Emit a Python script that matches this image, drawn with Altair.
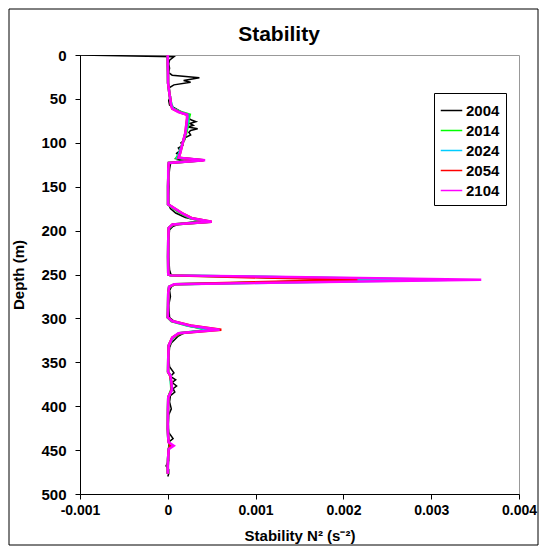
import altair as alt
import pandas as pd

# Stability N^2 values are given in units of 1e-4 s^-2
YEARS = ["2004", "2014", "2024", "2054", "2104"]
COLORS = ["#000000", "#00FF00", "#00CCFF", "#FF0000", "#FF00FF"]

DEPTH_2004 = [0, 2, 6, 10, 15, 20, 23, 26, 29, 31, 34, 37, 42, 47, 52, 57, 61, 64, 67, 69,
              72, 74, 76, 78, 80, 82, 84, 86, 88, 91, 94, 97, 100, 103, 106, 109, 112, 115, 118, 120,
              122, 124, 130, 140, 150, 160, 170, 175, 180, 185, 189, 192, 195, 199, 210, 230, 245, 251, 256, 261,
              264, 268, 275, 285, 299, 304, 309, 313, 316, 320, 324, 328, 333, 345, 355, 362, 366, 370, 373, 377,
              380, 384, 388, 395, 403, 410, 420, 430, 437, 440, 446, 455, 462, 468, 472, 477, 480]
N2_2004 = [-10, 0.7, 0.2, 0.1, 0.2, 0.1, 0.5, 3.6, 1.8, 2.6, 0.7, 0.2, 0.1, 0.3, 0.1, 0.2, 0.9, 1.4, 2.0, 2.4,
           2.3, 2.7, 3.2, 2.5, 2.9, 2.3, 3.4, 2.6, 2.4, 2.6, 2.0, 1.9, 1.5, 1.7, 1.2, 1.4, 1.0, 1.3, 0.9, 1.8,
           0.6, 0.3, 0.2, 0.1, 0.15, 0.1, 0.1, 0.3, 0.9, 2.0, 3.8, 1.5, 0.6, 0.2, 0.1, 0.1, 0.2, 0.4, 22.0, 0.8,
           0.4, 0.2, 0.3, 0.1, 0.2, 0.8, 2.5, 4.6, 2.0, 1.2, 0.8, 0.4, 0.2, 0.1, 0.2, 0.7, 0.3, 0.9, 0.5, 1.0,
           0.6, 0.8, 0.3, 0.2, 0.4, 0.1, 0.05, 0.1, 0.6, 0.2, 0.1, 0.05, 0.1, -0.2, 0.1, 0.1, 0.0]

DEPTH = [0, 10, 20, 32, 45, 51, 56, 61, 65, 68,
         72, 80, 89, 100, 112, 117, 120, 123, 130, 140,
         150, 160, 170, 174, 180, 186, 190, 193, 197, 210,
         230, 250, 251, 256, 261, 264, 271, 285, 299, 303,
         308, 313, 317, 322, 331, 345, 361, 365, 372, 381,
         390, 405, 426, 436, 441, 445, 449, 460, 468, 477]
N2_2014 = [0.0, 0.0, 0.02, 0.03, 0.2, 0.3, 0.4, 0.6, 1.5, 2.5,
           2.4, 2.3, 2.1, 1.7, 1.3, 1.0, 3.8, 0.12, 0.05, 0.05,
           0.03, 0.03, 0.03, 0.55, 1.4, 2.6, 4.6, 0.6, 0.12, 0.05,
           0.03, 0.05, 0.3, 29.0, 0.9, 0.15, 0.05, 0.03, 0.0, 0.4,
           2.2, 4.8, 1.4, 0.6, 0.1, 0.05, 0.03, 0.3, 0.35, 0.4,
           0.05, 0.02, 0.0, 0.05, 0.15, 0.25, 0.1, 0.03, 0.0, 0.0]
N2_2024 = [0.0, 0.0, 0.02, 0.03, 0.2, 0.3, 0.4, 0.6, 1.4, 2.3,
           2.3, 2.2, 2.0, 1.7, 1.3, 1.1, 4.0, 0.12, 0.05, 0.05,
           0.03, 0.03, 0.03, 0.6, 1.5, 2.7, 4.8, 0.6, 0.12, 0.05,
           0.03, 0.05, 0.3, 32.0, 0.8, 0.15, 0.05, 0.03, 0.0, 0.45,
           2.3, 5.1, 1.3, 0.55, 0.1, 0.05, 0.03, 0.3, 0.35, 0.45,
           0.05, 0.02, 0.0, 0.05, 0.1, 0.35, 0.1, 0.03, 0.0, 0.0]
N2_2054 = [0.0, 0.0, 0.02, 0.03, 0.2, 0.3, 0.35, 0.5, 1.3, 2.2,
           2.2, 2.1, 2.0, 1.7, 1.4, 1.2, 4.1, 0.12, 0.05, 0.05,
           0.03, 0.03, 0.03, 0.65, 1.6, 2.8, 5.0, 0.55, 0.1, 0.05,
           0.03, 0.05, 0.3, 21.6, 0.8, 0.15, 0.05, 0.03, 0.0, 0.5,
           2.6, 6.1, 1.3, 0.5, 0.1, 0.05, 0.03, 0.25, 0.4, 0.45,
           0.05, 0.02, 0.0, 0.05, 0.1, 0.3, 0.1, 0.03, 0.0, 0.0]
N2_2104 = [0.0, 0.0, 0.02, 0.03, 0.2, 0.3, 0.35, 0.5, 1.2, 2.2,
           2.2, 2.1, 2.0, 1.7, 1.4, 1.24, 4.25, 0.11, 0.05, 0.05,
           0.03, 0.03, 0.03, 0.68, 1.6, 2.75, 5.0, 0.5, 0.1, 0.05,
           0.03, 0.05, 0.3, 35.7, 0.7, 0.15, 0.05, 0.03, 0.0, 0.5,
           2.5, 5.9, 1.2, 0.5, 0.1, 0.05, 0.03, 0.3, 0.4, 0.49,
           0.05, 0.02, 0.0, 0.05, 0.1, 0.68, 0.1, 0.03, 0.0, 0.0]

X_TICKS = [-0.001, 0, 0.001, 0.002, 0.003, 0.004]
Y_TICKS = [0, 50, 100, 150, 200, 250, 300, 350, 400, 450, 500]

series = {
    "2004": (DEPTH_2004, N2_2004),
    "2014": (DEPTH, N2_2014),
    "2024": (DEPTH, N2_2024),
    "2054": (DEPTH, N2_2054),
    "2104": (DEPTH, N2_2104),
}
rows = []
for year, (depths, vals) in series.items():
    for i, (d, v) in enumerate(zip(depths, vals)):
        rows.append({"year": year, "depth": d, "n2": v * 1e-4, "i": i})
df = pd.DataFrame(rows)

FONT = "Liberation Sans"

x_enc = alt.X(
    "n2:Q",
    scale=alt.Scale(domain=[-0.001, 0.004], nice=False, zero=False),
    axis=alt.Axis(
        values=X_TICKS,
        labelExpr="datum.value < 0 ? '-' + format(-datum.value, '.3~f') : format(datum.value, '.3~f')",
        title="Stability N² (s⁻²)",
        labelPadding=4,
        titlePadding=11,
        labelFlush=False,
        labelFontSize=14,
    ),
)
y_enc = alt.Y(
    "depth:Q",
    scale=alt.Scale(domain=[0, 500], reverse=True, nice=False, zero=False),
    axis=alt.Axis(values=Y_TICKS, title="Depth (m)", labelPadding=9, titlePadding=14),
)
color_enc = alt.Color(
    "year:N",
    scale=alt.Scale(domain=YEARS, range=COLORS),
    legend=alt.Legend(
        orient="none",
        legendX=354,
        legendY=38,
        title=None,
        symbolType="stroke",
        symbolSize=462,
        symbolStrokeWidth=1.5,
        labelFont=FONT,
        labelFontSize=15,
        labelFontWeight="bold",
        labelColor="black",
        labelOffset=3,
        strokeColor="black",
        fillColor="white",
        padding=6,
        rowPadding=0,
    ),
)

lines = []
for year in YEARS:
    sw = 1.5 if year == "2004" else 2.5
    lines.append(
        alt.Chart(df)
        .transform_filter(alt.datum.year == year)
        .mark_line(strokeWidth=sw, clip=True)
        .encode(x=x_enc, y=y_enc, color=color_enc, order=alt.Order("i:Q"))
    )

one = pd.DataFrame({"k": [0]})
frame = alt.Chart(one).mark_rect(fill=None, stroke="black", strokeWidth=1).encode(
    x=alt.value(-71), x2=alt.value(458), y=alt.value(-46), y2=alt.value(490)
)
title = alt.Chart(one).mark_text(
    text="Stability", font=FONT, fontSize=21, fontWeight="bold",
    align="center", baseline="alphabetic", color="black"
).encode(x=alt.value(199), y=alt.value(-14))

chart = (
    alt.layer(frame, title, *lines)
    .properties(
        width=439,
        height=439,
        padding={"left": 72, "top": 47, "right": 20, "bottom": 52},
        autosize=alt.AutoSizeParams(type="none"),
    )
    .configure_view(stroke="#999999", strokeWidth=1)
    .configure_axis(
        labelFont=FONT,
        titleFont=FONT,
        labelFontSize=15,
        titleFontSize=15,
        labelFontWeight="bold",
        titleFontWeight="bold",
        labelColor="black",
        titleColor="black",
        domainColor="black",
        tickColor="black",
        tickSize=5,
        grid=False,
    )
)

chart.save("out.html", embed_options={"renderer": "svg", "actions": False})
